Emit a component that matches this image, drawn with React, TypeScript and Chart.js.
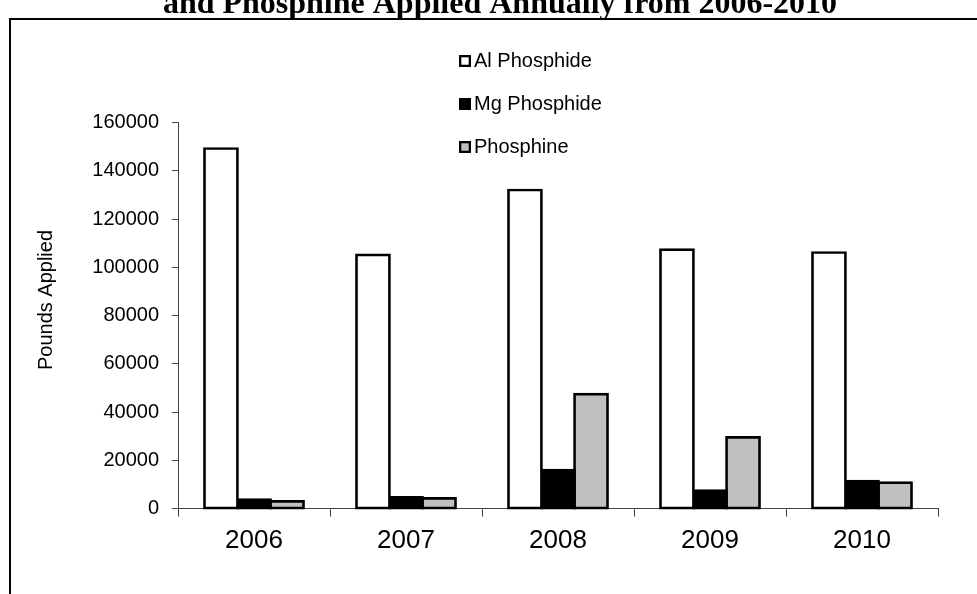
import { useEffect, useRef } from 'react';
import { Chart, registerables } from 'chart.js';

Chart.register(...registerables);

const categories = ['2006', '2007', '2008', '2009', '2010'];
const alPhosphide = [149300, 105200, 132100, 107400, 106200];
const mgPhosphide = [3800, 4700, 16000, 7500, 11400];
const phosphine = [3000, 4300, 47500, 29600, 10800];
const seriesNames = ['Al Phosphide', 'Mg Phosphide', 'Phosphine'];
const seriesColors = ['#ffffff', '#000000', '#c0c0c0'];
const yMin = 0;
const yMax = 160000;
const yStep = 20000;
const titleText = 'and Phosphine Applied Annually from 2006-2010';
const yAxisTitle = 'Pounds Applied';

const SANS = '"Liberation Sans", Arial, sans-serif';
const SERIF = '"Liberation Serif", "Times New Roman", serif';

const W = 977;
const H = 594;

const decor = {
  id: 'decor',
  beforeDraw(chart: any) {
    const ctx = chart.ctx as CanvasRenderingContext2D;
    ctx.save();
    ctx.fillStyle = '#ffffff';
    ctx.fillRect(0, 0, chart.width, chart.height);
    // frame
    ctx.fillStyle = '#000000';
    ctx.fillRect(9, 18, 2, chart.height);
    ctx.fillRect(9, 18, chart.width, 2);
    // cut-off title
    ctx.font = 'bold 32px ' + SERIF;
    ctx.textAlign = 'center';
    ctx.textBaseline = 'alphabetic';
    ctx.fillText(titleText, 500, 13);
    // y axis title
    ctx.translate(46, 300);
    ctx.rotate(-Math.PI / 2);
    ctx.font = '20px ' + SANS;
    ctx.textAlign = 'center';
    ctx.textBaseline = 'middle';
    ctx.fillStyle = '#000000';
    ctx.fillText(yAxisTitle, 0, 0);
    ctx.restore();
  },
  afterDraw(chart: any) {
    const ctx = chart.ctx as CanvasRenderingContext2D;
    ctx.save();
    const boxX = 459;
    const box = 12;
    const firstY = 61;
    const step = 43;
    chart.data.datasets.forEach((ds: any, i: number) => {
      const cy = firstY + i * step;
      ctx.fillStyle = '#000000';
      ctx.fillRect(boxX, cy - box / 2, box, box);
      ctx.fillStyle = ds.backgroundColor;
      ctx.fillRect(boxX + 2.3, cy - box / 2 + 2.3, box - 4.6, box - 4.6);
      ctx.fillStyle = '#000000';
      ctx.font = '20px ' + SANS;
      ctx.textAlign = 'left';
      ctx.textBaseline = 'middle';
      ctx.fillText(ds.label, 474, cy);
    });
    ctx.restore();
  },
};

export default function App() {
  const ref = useRef<HTMLCanvasElement>(null);

  useEffect(() => {
    if (!ref.current) return;
    const mk = (i: number, data: number[]) => ({
      label: seriesNames[i],
      data,
      backgroundColor: seriesColors[i],
      borderColor: '#000000',
      borderWidth: 2.7,
      inflateAmount: 1.35,
      borderSkipped: false,
      categoryPercentage: 0.652,
      barPercentage: 1,
      clip: false,
    });
    const chart = new Chart(ref.current, {
      type: 'bar',
      data: {
        labels: categories,
        datasets: [mk(0, alPhosphide), mk(1, mgPhosphide), mk(2, phosphine)] as any,
      },
      plugins: [decor],
      options: {
        responsive: false,
        animation: false,
        devicePixelRatio: 1,
        layout: { padding: { left: 0, top: 122.7, right: 39, bottom: 0 } },
        plugins: {
          legend: { display: false },
          title: { display: false },
          tooltip: { enabled: false },
        },
        scales: {
          x: {
            grid: {
              display: true,
              drawOnChartArea: false,
              drawTicks: true,
              tickLength: 8,
              color: '#444444',
              offset: true,
            },
            border: { display: true, color: '#444444', width: 1 },
            ticks: {
              color: '#000000',
              padding: 9,
              font: { family: SANS, size: 26 },
              maxRotation: 0,
              autoSkip: false,
            },
            afterFit: (s: any) => {
              s.height = H - 508.7;
            },
          },
          y: {
            min: yMin,
            max: yMax,
            grid: {
              display: true,
              drawOnChartArea: false,
              drawTicks: true,
              tickLength: 6,
              color: '#444444',
            },
            border: { display: true, color: '#444444', width: 1 },
            ticks: {
              stepSize: yStep,
              color: '#000000',
              padding: 13,
              font: { family: SANS, size: 20 },
              callback: (v: any) => String(v),
            },
            afterFit: (s: any) => {
              s.width = 178;
            },
          },
        },
      } as any,
    });
    return () => chart.destroy();
  }, []);

  return (
    <div
      style={{
        position: 'fixed',
        left: 0,
        top: 0,
        width: W,
        height: H,
        overflow: 'hidden',
        background: '#ffffff',
      }}
    >
      <canvas ref={ref} width={W} height={H} style={{ display: 'block', width: W, height: H }} />
    </div>
  );
}
